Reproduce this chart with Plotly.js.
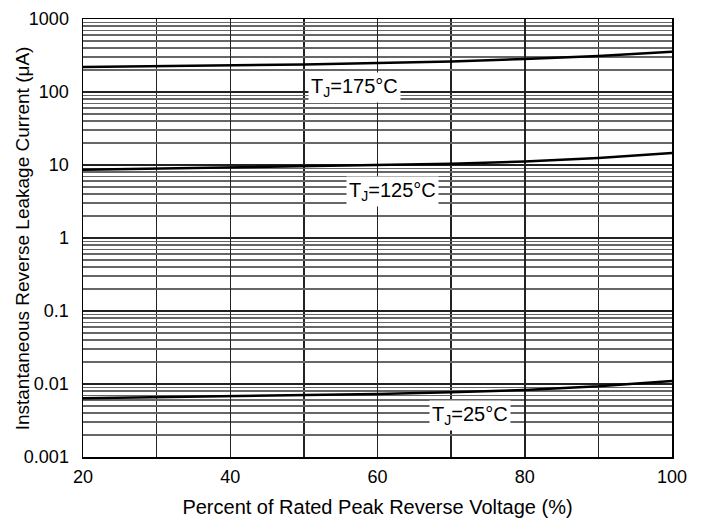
<!DOCTYPE html>
<html>
<head>
<meta charset="utf-8">
<script src="https://cdn.plot.ly/plotly-3.0.1.min.js"></script>
<style>body{margin:0;background:#fff}#chart{width:707px;height:521px}</style>
</head>
<body>
<div id="chart"></div>
<script>
const voltagePct = [20, 30, 40, 50, 60, 70, 80, 90, 100];
const current175 = [220, 225, 230, 238, 250, 262, 283, 312, 356];
const current125 = [8.6, 8.9, 9.2, 9.6, 10.0, 10.4, 11.2, 12.5, 14.6];
const current25 = [0.0064, 0.0066, 0.0068, 0.0070, 0.0073, 0.0077, 0.0083, 0.0093, 0.011];
const seriesLabels = ['T<sub>J</sub>=175°C', 'T<sub>J</sub>=125°C', 'T<sub>J</sub>=25°C'];
const labelX = [56.9, 62.1, 72.6];
const labelY = [117, 4.27, 0.00376];
const yTickVals = [0.001, 0.01, 0.1, 1, 10, 100, 1000];
const yTickText = ['0.001', '0.01', '0.1', '1', '10', '100', '1000'];
const yTitle = 'Instantaneous Reverse Leakage Current (μA)';
const xTitle = 'Percent of Rated Peak Reverse Voltage (%)';

const minorVals = [];
for (let d = -3; d < 3; d++) {
  for (let m = 2; m <= 9; m++) minorVals.push(m * Math.pow(10, d));
}

const line = {color: '#000', width: 2.5};
const traces = [current175, current125, current25].map(v => ({
  x: voltagePct, y: v, type: 'scatter', mode: 'lines', line: line, hoverinfo: 'skip', showlegend: false
}));

const FONT = 'Arial, Liberation Sans, sans-serif';
const annotations = seriesLabels.map((t, i) => ({
  x: labelX[i], y: Math.log10(labelY[i]), xref: 'x', yref: 'y', text: t, showarrow: false,
  bgcolor: '#fff', font: {family: FONT, size: 20, color: '#000'},
  borderpad: 2
}));
annotations.push({
  text: yTitle, textangle: -90, showarrow: false, xref: 'paper', yref: 'paper',
  x: -0.103, y: 0.5, xanchor: 'center', yanchor: 'middle',
  font: {family: FONT, size: 19, color: '#000'}
});

const layout = {
  width: 707, height: 521,
  margin: {l: 83, r: 35, t: 19, b: 64},
  paper_bgcolor: '#fff', plot_bgcolor: '#fff',
  font: {family: FONT, size: 18, color: '#000'},
  showlegend: false,
  xaxis: {
    range: [20, 100], tickvals: [20, 40, 60, 80, 100], ticks: '', ticklabelstandoff: 3,
    showline: true, mirror: true, linecolor: '#000', linewidth: 1.5,
    showgrid: true, gridcolor: '#222', gridwidth: 1.5, zeroline: false,
    minor: {tickvals: [30, 50, 70, 90], showgrid: true, gridcolor: '#222', gridwidth: 1.5, ticks: ''},
    tickfont: {size: 18},
    title: {text: xTitle, font: {size: 20}, standoff: 14}
  },
  yaxis: {
    type: 'log', range: [-3, 3], tickmode: 'array', tickvals: yTickVals, ticktext: yTickText, ticks: '',
    ticklabelstandoff: 9,
    showline: true, mirror: true, linecolor: '#000', linewidth: 1.5,
    showgrid: true, gridcolor: '#222', gridwidth: 1.5, zeroline: false,
    minor: {tickmode: 'array', tickvals: minorVals, showgrid: true, gridcolor: '#666', gridwidth: 1.5, ticks: ''},
    tickfont: {size: 18}
  },
  annotations: annotations
};

Plotly.newPlot('chart', traces, layout, {displayModeBar: false, staticPlot: true});
</script>
</body>
</html>
